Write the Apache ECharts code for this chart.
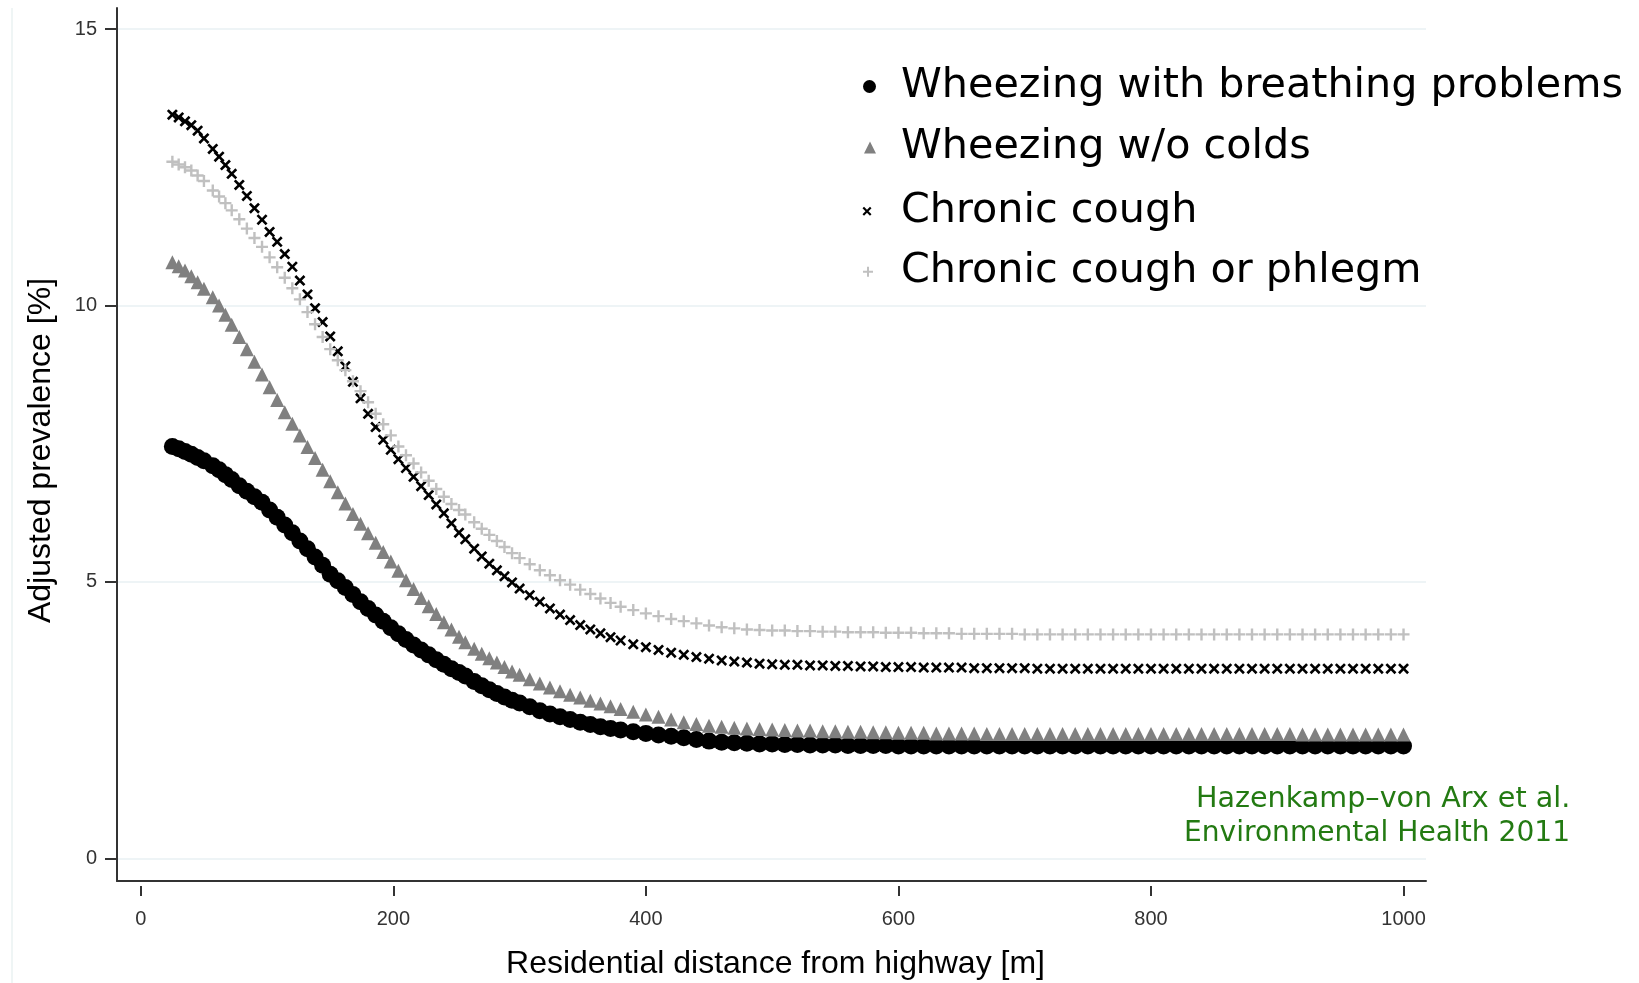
<!DOCTYPE html>
<html>
<head>
<meta charset="utf-8">
<script src="https://cdn.jsdelivr.net/npm/echarts@6/dist/echarts.min.js"></script>
<style>html,body{margin:0;padding:0;background:#fff}#c{width:1639px;height:983px}</style>
</head>
<body>
<div id="c"></div>
<script>
// ---- data ----
const distances = [25,30,35,40,45,50,57,62,67,72,78,84,90,96,102,108,114,120,126,132,
  138,144,150,156,162,168,174,180,186,192,198,204,210,216,222,228,234,240,246,252,
  257,264,270,276,282,288,294,300,308,316,324,332,340,348,356,364,372,380,390,400,
  410,420,430,440,450,460,470,480,490,500,
  510,520,530,540,550,560,570,580,590,600,610,620,630,640,650,660,670,680,690,700,
  710,720,730,740,750,760,770,780,790,800,810,820,830,840,850,860,870,880,890,900,
  910,920,930,940,950,960,970,980,990,1000];

const wheezeBreathing = [7.45,7.41,7.36,7.31,7.25,7.19,7.10,7.03,6.94,6.85,
  6.74,6.64,6.54,6.44,6.30,6.17,6.03,5.89,5.74,5.60,
  5.45,5.30,5.14,5.02,4.90,4.77,4.64,4.52,4.40,4.29,
  4.17,4.06,3.96,3.86,3.77,3.68,3.59,3.51,3.43,3.36,
  3.30,3.20,3.12,3.05,2.98,2.92,2.86,2.81,2.74,2.67,
  2.61,2.56,2.51,2.46,2.42,2.38,2.35,2.32,2.29,2.26,
  2.23,2.21,2.18,2.15,2.12,2.10,2.09,2.08,2.07,2.07,
  2.06,2.06,2.05,2.05,2.05,2.04,2.04,2.04,2.04,2.03,
  2.03,2.03,2.03,2.03,2.03,2.03,2.03,2.03,2.03,2.03,
  2.03,2.03,2.03,2.03,2.03,2.03,2.03,2.03,2.03,2.03,
  2.03,2.03,2.03,2.03,2.03,2.03,2.03,2.03,2.03,2.03,
  2.03,2.03,2.03,2.03,2.03,2.03,2.03,2.03,2.03,2.03];

const wheezeNoColds = [10.78,10.71,10.63,10.53,10.42,10.30,10.15,10.00,9.83,9.65,
  9.43,9.21,8.98,8.75,8.52,8.29,8.07,7.86,7.65,7.44,
  7.24,7.03,6.82,6.62,6.42,6.23,6.05,5.88,5.71,5.54,
  5.37,5.20,5.03,4.87,4.71,4.56,4.42,4.27,4.14,4.01,
  3.91,3.79,3.70,3.62,3.54,3.46,3.38,3.32,3.24,3.16,
  3.09,3.02,2.96,2.91,2.85,2.80,2.75,2.70,2.65,2.60,
  2.56,2.51,2.46,2.43,2.40,2.38,2.36,2.35,2.34,2.33,
  2.32,2.31,2.31,2.30,2.30,2.29,2.29,2.28,2.28,2.27,
  2.27,2.27,2.26,2.26,2.26,2.26,2.25,2.25,2.25,2.25,
  2.25,2.25,2.25,2.25,2.25,2.25,2.25,2.25,2.25,2.25,
  2.25,2.25,2.25,2.25,2.25,2.25,2.25,2.25,2.25,2.25,
  2.25,2.24,2.24,2.24,2.24,2.24,2.24,2.24,2.24,2.24];

const chronicCough = [13.45,13.40,13.33,13.26,13.16,13.02,12.83,12.69,12.54,12.38,
  12.18,11.98,11.76,11.55,11.33,11.15,10.93,10.70,10.45,10.20,
  9.95,9.70,9.44,9.17,8.90,8.62,8.32,8.04,7.80,7.57,
  7.39,7.22,7.06,6.90,6.73,6.57,6.40,6.24,6.06,5.89,
  5.77,5.60,5.46,5.33,5.21,5.10,4.99,4.88,4.76,4.64,
  4.52,4.41,4.31,4.22,4.14,4.07,4.00,3.94,3.87,3.82,
  3.77,3.72,3.68,3.64,3.61,3.58,3.56,3.54,3.52,3.51,
  3.50,3.50,3.49,3.49,3.48,3.48,3.47,3.47,3.46,3.46,
  3.46,3.45,3.45,3.45,3.45,3.44,3.44,3.44,3.44,3.44,
  3.43,3.43,3.43,3.43,3.43,3.43,3.43,3.43,3.43,3.43,
  3.43,3.43,3.43,3.43,3.43,3.43,3.43,3.43,3.43,3.43,
  3.43,3.43,3.43,3.43,3.43,3.43,3.43,3.43,3.43,3.43];

const coughPhlegm = [12.60,12.55,12.50,12.44,12.35,12.25,12.08,11.97,11.85,11.72,
  11.56,11.39,11.22,11.06,10.87,10.69,10.50,10.31,10.11,9.88,
  9.66,9.43,9.21,9.01,8.83,8.63,8.45,8.25,8.04,7.85,
  7.65,7.45,7.29,7.14,6.98,6.83,6.68,6.54,6.41,6.30,
  6.22,6.08,5.96,5.85,5.74,5.63,5.52,5.43,5.32,5.21,
  5.12,5.03,4.95,4.86,4.78,4.70,4.62,4.55,4.49,4.43,
  4.38,4.33,4.29,4.25,4.21,4.18,4.16,4.14,4.13,4.12,
  4.12,4.11,4.11,4.10,4.10,4.09,4.09,4.09,4.08,4.08,
  4.08,4.07,4.07,4.07,4.06,4.06,4.06,4.06,4.06,4.05,
  4.05,4.05,4.05,4.05,4.05,4.05,4.05,4.05,4.05,4.05,
  4.05,4.05,4.05,4.05,4.05,4.05,4.05,4.05,4.05,4.05,
  4.05,4.05,4.05,4.05,4.05,4.05,4.05,4.05,4.05,4.05];

const seriesNames = ['Wheezing with breathing problems','Wheezing w/o colds','Chronic cough','Chronic cough or phlegm'];
const xTicks = [0,200,400,600,800,1000];
const yTicks = [0,5,10,15];
const citation = ['Hazenkamp\u2013von Arx et al.','Environmental Health 2011'];

// ---- chart ----
const PLUS = 'path://M4,0H6V4H10V6H6V10H4V6H0V4H4Z';
const CROSS = 'path://M0,1.7L1.7,0L5,3.3L8.3,0L10,1.7L6.7,5L10,8.3L8.3,10L5,6.7L1.7,10L0,8.3L3.3,5Z';
const pair = vals => distances.map((d, i) => [d, vals[i]]);
const XMIN = -18.85, XMAX = 1017.8, YMIN = -0.41, YMAX = 15.38;

const chart = echarts.init(document.getElementById('c'), null, {renderer: 'canvas'});

const legendText = pad => ({fontFamily: 'DejaVu Sans', fontSize: 41.3, color: '#000', lineHeight: 41, padding: [0, 0, 0, pad]});
const mkLegend = (name, icon, size, left, top, pad, color) => ({
  data: [{name: name, icon: icon, itemStyle: {color: color}}],
  orient: 'vertical', left: left, top: top, padding: 0,
  itemWidth: size, itemHeight: size, selectedMode: false,
  textStyle: legendText(pad)
});

const option = {
  animation: false,
  backgroundColor: '#fff',
  grid: {left: 117, right: 213, top: 8, bottom: 102, containLabel: false, outerBoundsMode: 'none'},
  legend: [
    mkLegend(seriesNames[0], 'circle', 13, 863, 66, 20, '#000'),
    mkLegend(seriesNames[1], 'triangle', 12, 864, 127, 20, '#808080'),
    mkLegend(seriesNames[2], CROSS, 9, 862.5, 190.7, 24.5, '#000'),
    mkLegend(seriesNames[3], PLUS, 10, 863, 251.2, 23, '#c0c0c0')
  ],
  xAxis: [
    {
      type: 'value', min: XMIN, max: XMAX, position: 'bottom',
      axisLine: {show: true, onZero: false, lineStyle: {color: '#333', width: 2}},
      axisTick: {show: false}, axisLabel: {show: false}, splitLine: {show: false},
      name: 'Residential distance from highway [m]', nameLocation: 'middle', nameGap: 67,
      nameTextStyle: {fontFamily: 'Liberation Sans', fontSize: 32, color: '#000', padding: [0, 0, 0, 8]}
    },
    {
      type: 'value', min: XMIN, max: XMAX, position: 'bottom', offset: 5,
      axisLine: {show: false, onZero: false},
      axisTick: {show: true, length: 10, customValues: xTicks, lineStyle: {color: '#333', width: 2}},
      axisLabel: {show: true, customValues: xTicks, margin: 23, fontFamily: 'Liberation Sans', fontSize: 20, color: '#333',
        formatter: v => String(v)},
      splitLine: {show: false}
    }
  ],
  yAxis: {
    type: 'value', min: YMIN, max: YMAX,
    axisLine: {show: true, onZero: false, lineStyle: {color: '#333', width: 2}},
    axisTick: {show: true, length: 12, customValues: yTicks, lineStyle: {color: '#333', width: 2}},
    axisLabel: {show: true, customValues: yTicks, margin: 20, fontFamily: 'Liberation Sans', fontSize: 20, color: '#333',
      formatter: v => String(v)},
    splitLine: {show: true, lineStyle: {color: '#e9f1f3', width: 1.5}},
    name: 'Adjusted prevalence [%]', nameLocation: 'middle', nameGap: 60,
    nameTextStyle: {fontFamily: 'Liberation Sans', fontSize: 32, color: '#000', padding: [0, 12, 0, 0]}
  },
  series: [
    {name: seriesNames[0], type: 'scatter', data: pair(wheezeBreathing), symbol: 'circle', symbolSize: 17,
      itemStyle: {color: '#000', opacity: 1}, xAxisIndex: 0, silent: true},
    {name: seriesNames[1], type: 'scatter', data: pair(wheezeNoColds), symbol: 'triangle', symbolSize: 14,
      itemStyle: {color: '#808080', opacity: 1}, xAxisIndex: 0, silent: true},
    {name: seriesNames[2], type: 'scatter', data: pair(chronicCough), symbol: CROSS, symbolSize: 11,
      itemStyle: {color: '#000', opacity: 1}, xAxisIndex: 0, silent: true},
    {name: seriesNames[3], type: 'scatter', data: pair(coughPhlegm), symbol: PLUS, symbolSize: 12,
      itemStyle: {color: '#c0c0c0', opacity: 1}, xAxisIndex: 0, silent: true}
  ],
  graphic: [
    {type: 'line', silent: true, shape: {x1: 12, y1: 8, x2: 12, y2: 983}, style: {stroke: '#eaf2f2', lineWidth: 1.5}},
    {type: 'text', silent: true, x: 1196, y: 799.5, style: {text: citation[0], fontFamily: 'DejaVu Sans', fontSize: 28.6, fill: '#237a12', align: 'left', verticalAlign: 'middle'}},
    {type: 'text', silent: true, x: 1184, y: 833.5, style: {text: citation[1], fontFamily: 'DejaVu Sans', fontSize: 28.1, fill: '#237a12', align: 'left', verticalAlign: 'middle'}}
  ]
};
chart.setOption(option);
</script>
</body>
</html>
